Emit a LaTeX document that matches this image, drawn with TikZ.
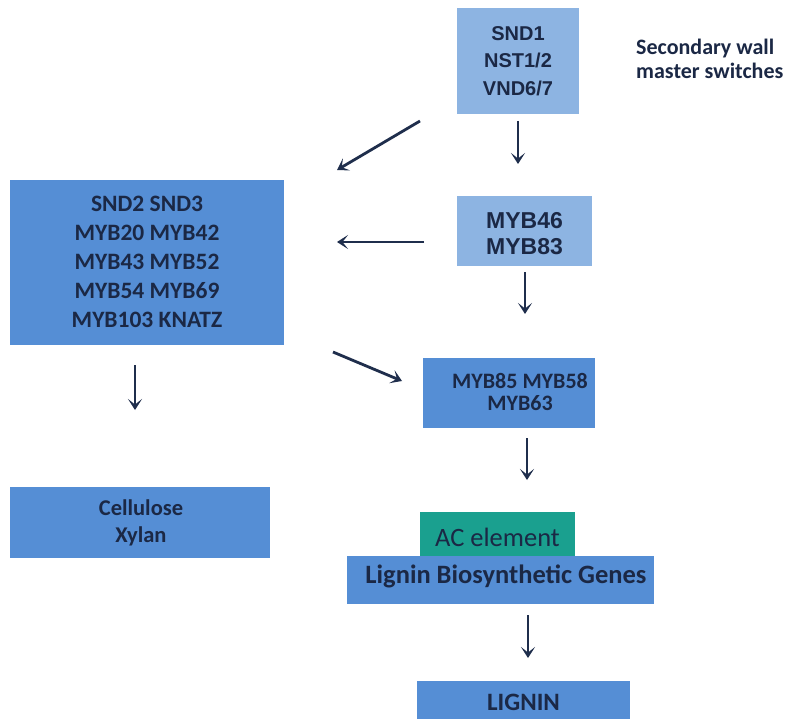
\documentclass[tikz,border=0pt]{standalone}
\usepackage{fontspec}
\setmainfont{Carlito}
\newfontfamily\arialf{Liberation Sans}
\usetikzlibrary{arrows.meta}
\definecolor{lightbox}{HTML}{8DB4E2}
\definecolor{midbox}{HTML}{558ED5}
\definecolor{tealbox}{HTML}{1AA08F}
\definecolor{navytxt}{HTML}{1B2845}
\definecolor{arrowc}{HTML}{1F2E4C}
\tikzset{
  lbox/.style={fill=lightbox, draw=none, inner sep=0pt},
  mbox/.style={fill=midbox, draw=none, inner sep=0pt},
  tbox/.style={fill=tealbox, draw=none, inner sep=0pt},
  txt/.style={text=navytxt, align=center, inner sep=0pt},
  arialtxt/.style={txt, font=\arialf\bfseries\fontsize{#1}{27.5}\selectfont},
  arr/.style={draw=arrowc, line width=2.8pt, -{Stealth[length=11pt,width=14pt,inset=5.5pt]}},
}
\begin{document}
\begin{tikzpicture}[x=1pt,y=-1pt]
\useasboundingbox (0,0) rectangle (802,719);
\fill[white] (0,0) rectangle (802,719);
% boxes
\node[lbox, minimum width=122pt, minimum height=106pt] (top) at (518,61) {};
\node[arialtxt=20] (toptxt) at (518,61) {SND1\\NST1/2\\VND6/7};
\node[txt, align=left, anchor=west, font=\bfseries\fontsize{22}{24}\selectfont] (sw) at (636,59) {Secondary wall\\master switches};
\node[mbox, minimum width=274pt, minimum height=165pt] (left) at (147,262.5) {};
\node[txt, font=\bfseries\fontsize{23.5}{29}\selectfont] (lefttxt) at (147,262) {SND2 SND3\\MYB20 MYB42\\MYB43 MYB52\\MYB54 MYB69\\MYB103 KNATZ};
\node[lbox, minimum width=135pt, minimum height=70pt] (m46) at (524.5,231) {};
\node[txt, font=\arialf\bfseries\fontsize{23}{26}\selectfont] (m46txt) at (524.5,234) {MYB46\\MYB83};
\node[mbox, minimum width=172pt, minimum height=70pt] (m85) at (509,393) {};
\node[txt, font=\bfseries\fontsize{22}{22}\selectfont] (m85txt) at (520,392) {MYB85 MYB58\\MYB63};
\node[mbox, minimum width=260pt, minimum height=71pt] (cell) at (140,522.5) {};
\node[txt, font=\bfseries\fontsize{22.5}{27}\selectfont] (celltxt) at (141,523) {Cellulose\\Xylan};
\node[tbox, minimum width=155pt, minimum height=45pt] (ac) at (497.5,534.5) {};
\node[txt, font=\fontsize{26.5}{26.5}\selectfont] (actxt) at (497.5,537) {AC element};
\node[mbox, minimum width=307pt, minimum height=48pt] (lig) at (500.5,580) {};
\node[txt, font=\bfseries\fontsize{26.5}{26.5}\selectfont] (ligtxt) at (506,576) {Lignin Biosynthetic Genes};
\node[mbox, minimum width=213pt, minimum height=42pt, anchor=north] (lignin) at (523.5,681) {};
\node[txt, font=\bfseries\fontsize{25}{25}\selectfont] (lignintxt) at (523.5,702) {LIGNIN};
% arrow endpoints
\coordinate (a1s) at (420,121); \coordinate (a1e) at (337,170);
\coordinate (a2s) at (518,121); \coordinate (a2e) at (518,164);
\coordinate (a3s) at (424,242); \coordinate (a3e) at (337,242);
\coordinate (a4s) at (525,272); \coordinate (a4e) at (525,314);
\coordinate (a5s) at (333,352); \coordinate (a5e) at (402,381);
\coordinate (a6s) at (135,365); \coordinate (a6e) at (135,410);
\coordinate (a7s) at (527,438); \coordinate (a7e) at (527,480);
\coordinate (a8s) at (528,615); \coordinate (a8e) at (528,658);
\draw[arr] (a1s) -- (a1e);
\draw[arr] (a2s) -- (a2e);
\draw[arr] (a3s) -- (a3e);
\draw[arr] (a4s) -- (a4e);
\draw[arr] (a5s) -- (a5e);
\draw[arr] (a6s) -- (a6e);
\draw[arr] (a7s) -- (a7e);
\draw[arr] (a8s) -- (a8e);
\end{tikzpicture}
\end{document}
